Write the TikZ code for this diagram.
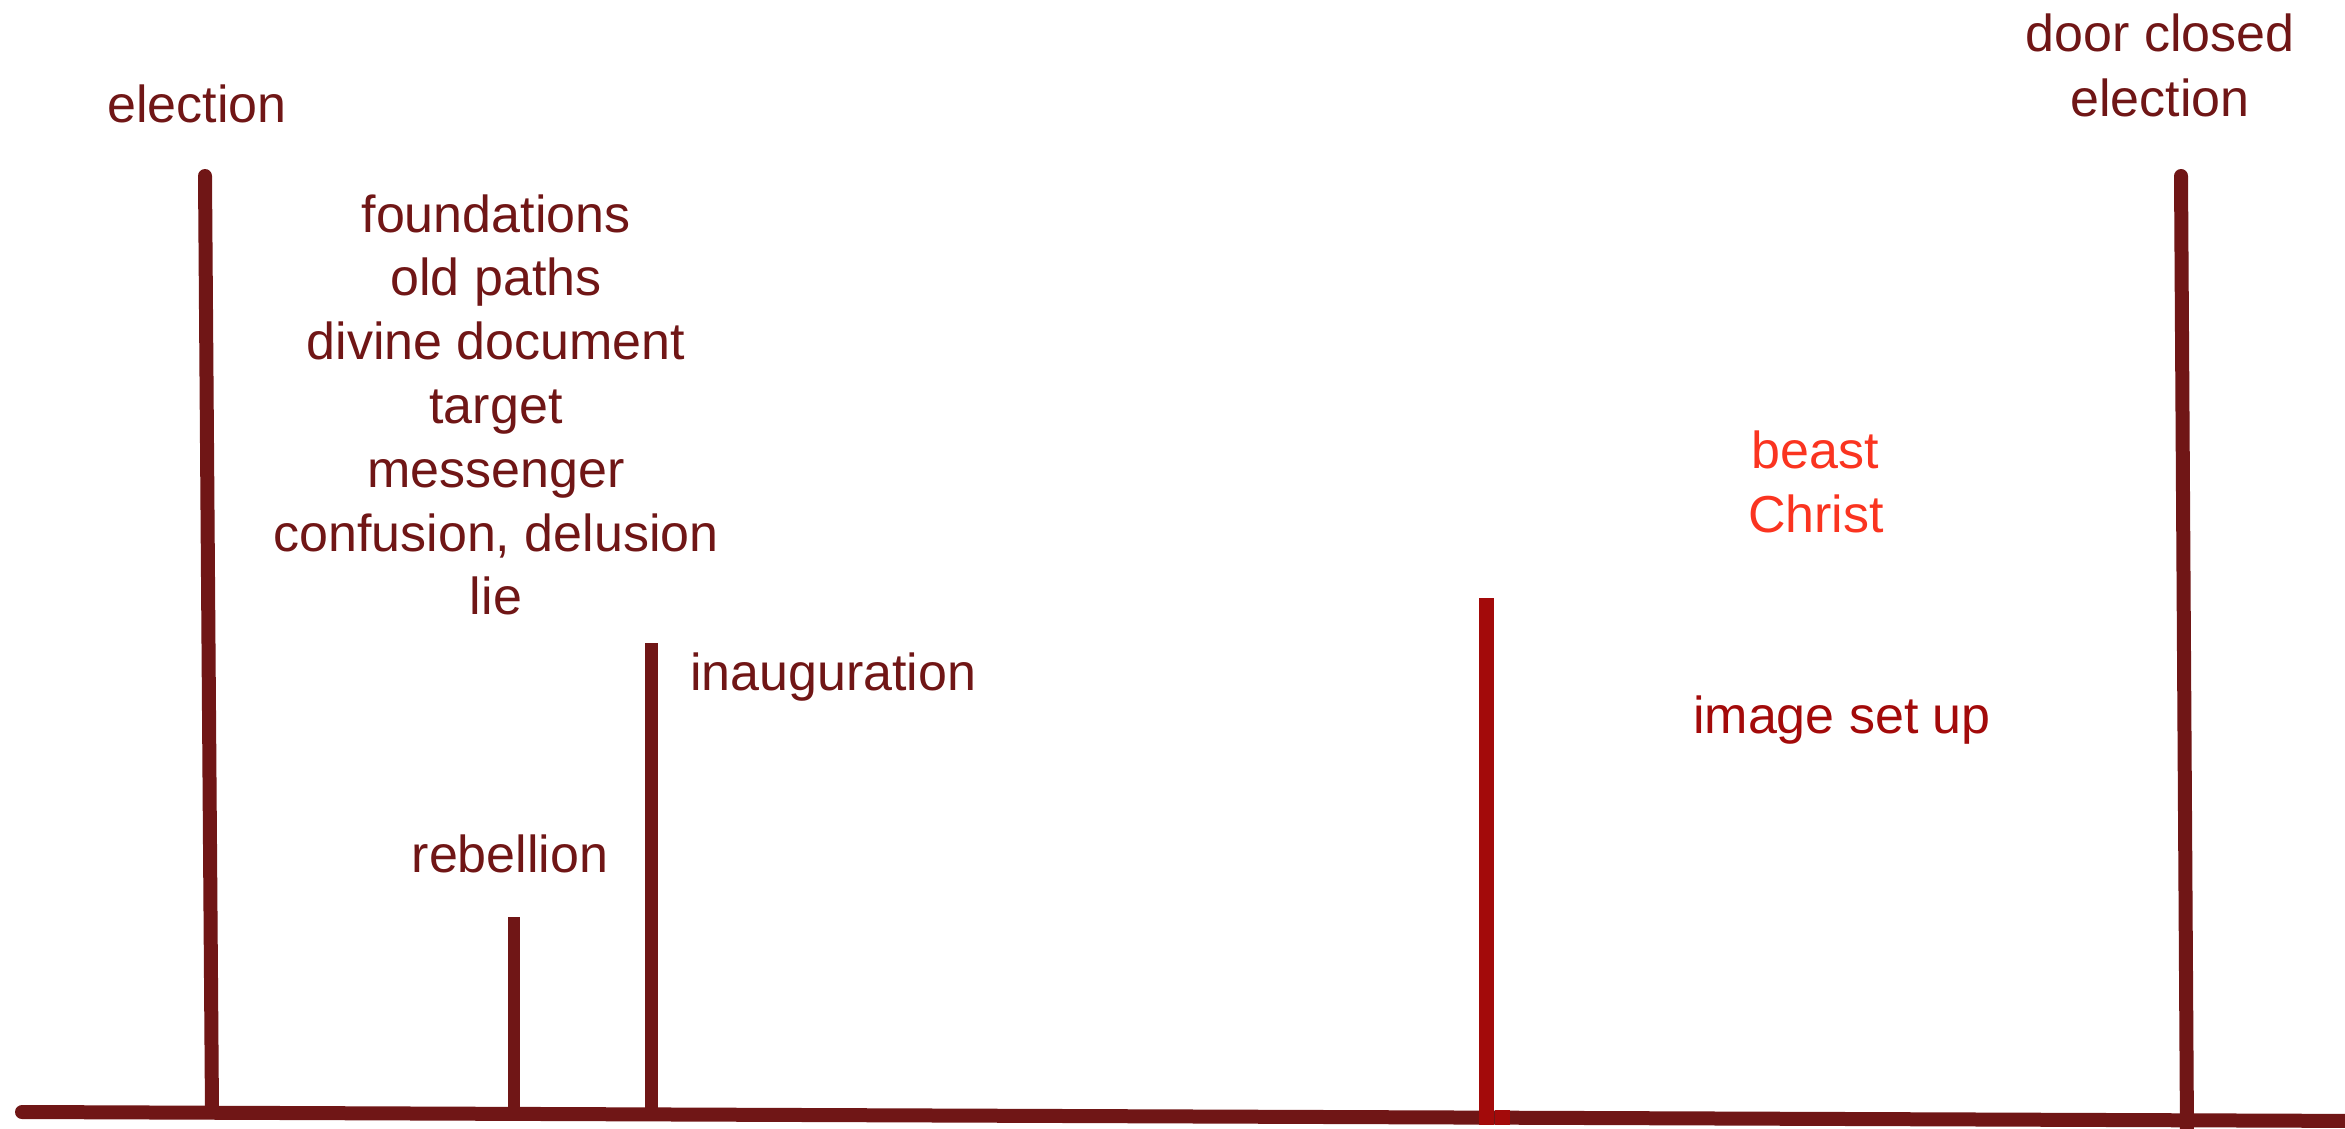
\documentclass[tikz,border=0pt]{standalone}
\usepackage{fontspec}
\setmainfont{Liberation Sans}
\definecolor{maroon}{RGB}{112,22,22}
\definecolor{crimson}{RGB}{163,10,10}
\definecolor{brightred}{RGB}{250,52,32}
\begin{document}
\begin{tikzpicture}[x=1pt,y=-1pt,
  lbl/.style={font=\fontsize{52}{64}\selectfont, inner sep=0pt, anchor=base, text=maroon},
  bar/.style={line width=14pt, draw=maroon}]
\useasboundingbox (0,0) rectangle (2345,1129);
% timeline
\coordinate (t0) at (22,1112);
\coordinate (t1) at (2370,1121);
\draw[bar, line cap=round] (t0) -- (t1);
% vertical markers
\coordinate (e1top) at (205,176);
\coordinate (e1bot) at (212,1112);
\draw[bar, line cap=round] (e1top) -- (e1bot);
\coordinate (rtop) at (514,917);
\coordinate (rbot) at (514,1113);
\draw[bar, line width=12pt] (rtop) -- (rbot);
\coordinate (itop) at (651,643);
\coordinate (ibot) at (651,1114);
\draw[bar, line width=13pt] (itop) -- (ibot);
\coordinate (btop) at (1486,598);
\coordinate (bbot) at (1486,1125);
\draw[bar, draw=crimson, line width=15pt] (btop) -- (bbot);
\fill[crimson] (1495,1110) rectangle (1510,1125);
\coordinate (e2top) at (2181,176);
\coordinate (e2bot) at (2187,1135);
\draw[bar, line cap=round] (e2top) -- (e2bot);
% labels
\node[lbl] (election1) at (197,123) {election};
\node[lbl] (l1) at (496,232) {foundations};
\node[lbl] (l2) at (496,295.8) {old paths};
\node[lbl] (l3) at (496,359.6) {divine document};
\node[lbl] (l4) at (496,423.4) {target};
\node[lbl] (l5) at (496,487.2) {messenger};
\node[lbl] (l6) at (496,551) {confusion, delusion};
\node[lbl] (l7) at (496,614.8) {lie};
\node[lbl, anchor=base west] (inaug) at (690,690) {inauguration};
\node[lbl] (rebel) at (510,872) {rebellion};
\node[lbl, text=brightred] (beast) at (1815,468) {beast};
\node[lbl, text=brightred] (christ) at (1816,532) {Christ};
\node[lbl, text=crimson] (image) at (1842,733) {image set up};
\node[lbl] (door) at (2160,52) {door closed};
\node[lbl] (election2) at (2160,117) {election};
\end{tikzpicture}
\end{document}
